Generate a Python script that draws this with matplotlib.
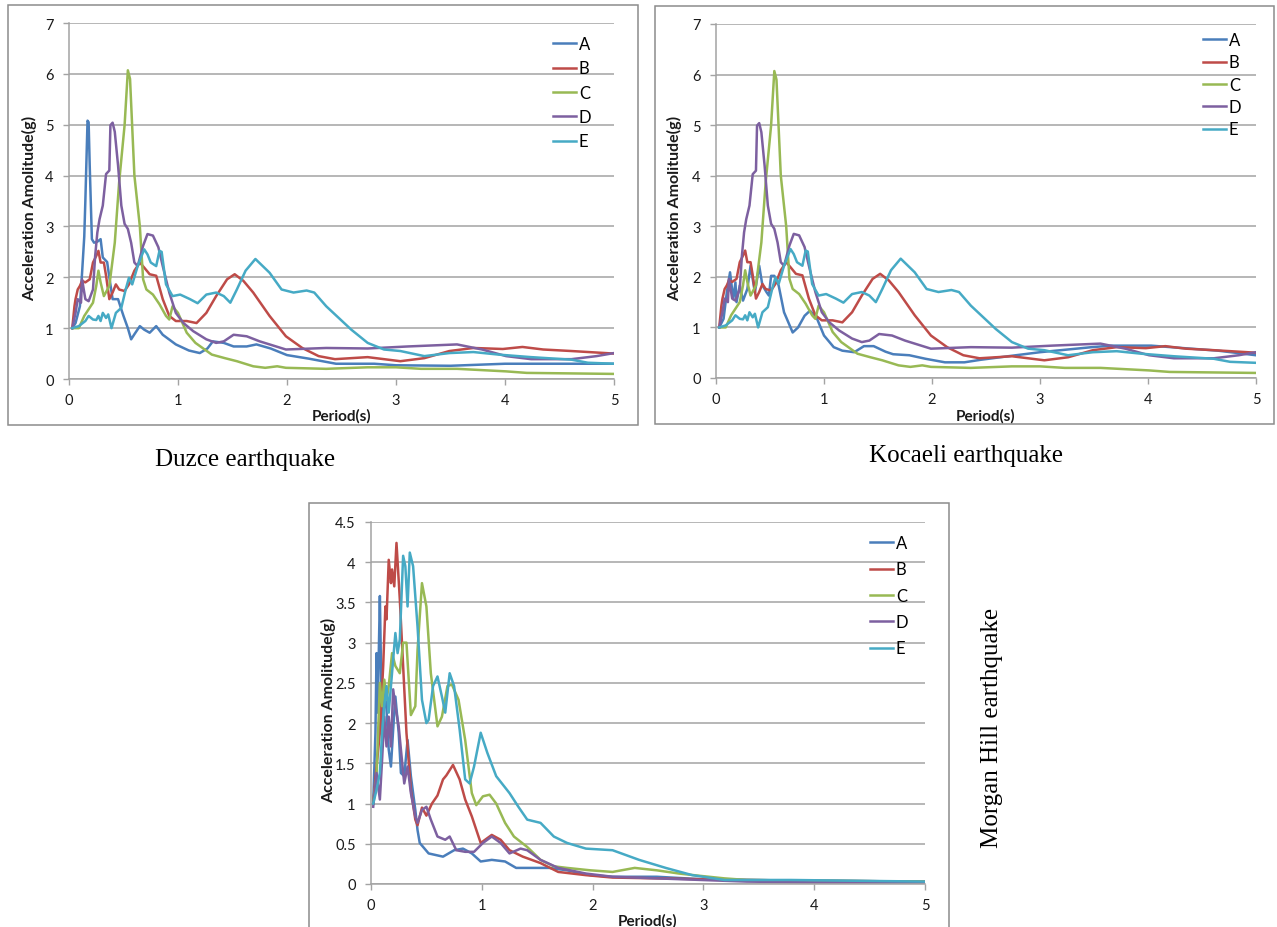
import matplotlib
matplotlib.use("Agg")
import matplotlib.pyplot as plt
from matplotlib.patches import Rectangle

plt.rcParams['font.family'] = ['Lato', 'DejaVu Sans']

W, H = 1277, 928

# ---- data: period (s) and acceleration (g) ----
series_names = ['A', 'B', 'C', 'D', 'E']
series_colors = ['#4A7EBB', '#BE4B48', '#98B954', '#7D60A0', '#46AAC5']

# Duzce, record A
duzce_a_t = [0.03, 0.06, 0.10, 0.12, 0.14, 0.15, 0.17, 0.18, 0.19, 0.21,
             0.23, 0.26, 0.29, 0.31, 0.35, 0.37, 0.40, 0.45, 0.48, 0.50,
             0.54, 0.57, 0.60, 0.65, 0.69, 0.74, 0.80, 0.86, 0.98, 1.10,
             1.20, 1.27, 1.32, 1.42, 1.51, 1.63, 1.72, 1.85, 2.00, 2.20,
             2.45, 2.80, 3.00, 3.50, 4.00, 4.50, 5.00]
duzce_a_g = [1.0, 1.1, 1.43, 2.09, 2.8, 3.5, 5.08, 5.05, 4.2, 2.75,
             2.68, 2.7, 2.75, 2.39, 2.3, 2.0, 1.57, 1.57, 1.37, 1.24,
             1.0, 0.78, 0.88, 1.04, 0.97, 0.91, 1.04, 0.87, 0.68, 0.56,
             0.51, 0.6, 0.74, 0.71, 0.64, 0.64, 0.68, 0.6, 0.47, 0.4,
             0.3, 0.3, 0.27, 0.26, 0.3, 0.3, 0.3]

# Kocaeli, record A
kocaeli_a_t = [0.03, 0.07, 0.10, 0.13, 0.16, 0.18, 0.19, 0.22, 0.25, 0.29,
               0.32, 0.36, 0.40, 0.43, 0.47, 0.49, 0.51, 0.54, 0.58, 0.63,
               0.71, 0.76, 0.82, 0.87, 0.93, 1.00, 1.09, 1.17, 1.28, 1.37,
               1.46, 1.57, 1.64, 1.79, 1.94, 2.12, 2.30, 2.45, 2.74, 3.00,
               3.48, 3.66, 4.03, 4.21, 4.65, 5.00]
kocaeli_a_g = [1.0, 1.17, 1.69, 2.09, 1.56, 1.89, 1.5, 1.83, 1.53, 1.76,
               2.22, 1.69, 2.22, 1.83, 1.69, 1.63, 2.02, 2.02, 1.83, 1.3,
               0.9, 1.0, 1.23, 1.33, 1.2, 0.84, 0.61, 0.54, 0.51, 0.63,
               0.63, 0.52, 0.47, 0.45, 0.38, 0.31, 0.31, 0.36, 0.44, 0.51,
               0.61, 0.64, 0.64, 0.61, 0.54, 0.45]

# records B..E, same in the Duzce and Kocaeli panels
turkey_b_t = [0.03, 0.05, 0.06, 0.08, 0.10, 0.12, 0.15, 0.19, 0.22, 0.25,
              0.27, 0.29, 0.32, 0.34, 0.37, 0.40, 0.43, 0.46, 0.51, 0.55,
              0.60, 0.65, 0.69, 0.74, 0.80, 0.86, 0.92, 0.98, 1.08, 1.17,
              1.26, 1.35, 1.45, 1.52, 1.60, 1.69, 1.84, 1.99, 2.14, 2.29,
              2.44, 2.74, 2.89, 3.04, 3.26, 3.49, 3.71, 3.98, 4.16, 4.35,
              4.61, 5.00]
turkey_b_g = [1.0, 1.43, 1.57, 1.76, 1.83, 1.93, 1.9, 1.96, 2.29, 2.42,
              2.52, 2.29, 2.29, 2.03, 1.57, 1.7, 1.86, 1.76, 1.73, 1.86,
              2.13, 2.29, 2.19, 2.06, 2.03, 1.57, 1.24, 1.14, 1.14, 1.1,
              1.3, 1.63, 1.96, 2.06, 1.93, 1.7, 1.24, 0.84, 0.61, 0.45,
              0.39, 0.43, 0.39, 0.35, 0.41, 0.55, 0.61, 0.59, 0.63, 0.58,
              0.55, 0.5]

turkey_c_t = [0.03, 0.09, 0.14, 0.18, 0.22, 0.25, 0.27, 0.29, 0.32, 0.37,
              0.42, 0.46, 0.51, 0.54, 0.56, 0.60, 0.65, 0.68, 0.71, 0.77,
              0.83, 0.89, 0.92, 0.95, 1.00, 1.08, 1.16, 1.31, 1.43, 1.54,
              1.69, 1.80, 1.91, 1.99, 2.36, 2.74, 3.00, 3.23, 3.56, 4.01,
              4.20, 5.00]
turkey_c_g = [1.0, 1.0, 1.24, 1.37, 1.5, 1.83, 2.13, 1.9, 1.63, 1.83,
              2.68, 3.87, 4.99, 6.07, 5.9, 4.0, 3.0, 1.96, 1.76, 1.66,
              1.47, 1.24, 1.17, 1.43, 1.3, 0.91, 0.71, 0.48, 0.41, 0.35,
              0.25, 0.22, 0.25, 0.22, 0.2, 0.23, 0.23, 0.2, 0.2, 0.15,
              0.12, 0.1]

turkey_d_t = [0.03, 0.06, 0.08, 0.11, 0.12, 0.15, 0.18, 0.22, 0.24, 0.26,
              0.28, 0.31, 0.34, 0.37, 0.38, 0.40, 0.42, 0.45, 0.48, 0.51,
              0.54, 0.57, 0.60, 0.63, 0.68, 0.72, 0.77, 0.82, 0.86, 0.92,
              0.98, 1.05, 1.14, 1.26, 1.35, 1.42, 1.51, 1.63, 1.75, 1.99,
              2.36, 2.74, 3.11, 3.56, 3.79, 4.01, 4.24, 4.61, 4.84, 5.00]
turkey_d_g = [1.0, 1.3, 1.57, 1.5, 1.96, 1.57, 1.53, 1.76, 2.42, 2.88,
              3.14, 3.41, 4.03, 4.1, 4.99, 5.04, 4.86, 4.2, 3.41, 3.05,
              2.95, 2.68, 2.29, 2.22, 2.62, 2.85, 2.82, 2.59, 2.22, 1.7,
              1.3, 1.1, 0.94, 0.78, 0.71, 0.74, 0.87, 0.84, 0.74, 0.58,
              0.61, 0.6, 0.64, 0.68, 0.58, 0.45, 0.39, 0.39, 0.45, 0.51]

turkey_e_t = [0.03, 0.09, 0.15, 0.18, 0.22, 0.25, 0.27, 0.29, 0.31, 0.34,
              0.36, 0.39, 0.43, 0.48, 0.52, 0.55, 0.58, 0.63, 0.69, 0.72,
              0.75, 0.80, 0.83, 0.85, 0.89, 0.95, 1.02, 1.11, 1.18, 1.26,
              1.35, 1.42, 1.48, 1.54, 1.62, 1.71, 1.84, 1.95, 2.06, 2.18,
              2.25, 2.36, 2.59, 2.74, 2.89, 3.04, 3.26, 3.49, 3.71, 3.94,
              4.24, 4.61, 4.76, 5.00]
turkey_e_g = [1.0, 1.04, 1.14, 1.24, 1.17, 1.16, 1.24, 1.14, 1.3, 1.2,
              1.27, 1.0, 1.3, 1.4, 1.76, 1.99, 1.86, 2.22, 2.55, 2.45,
              2.29, 2.22, 2.52, 2.5, 1.86, 1.63, 1.66, 1.57, 1.49, 1.66,
              1.7, 1.63, 1.5, 1.76, 2.13, 2.36, 2.09, 1.76, 1.7, 1.74,
              1.7, 1.43, 0.97, 0.71, 0.58, 0.55, 0.45, 0.51, 0.53, 0.48,
              0.43, 0.38, 0.32, 0.3]

# Morgan Hill
morgan_a_t = [0.02, 0.04, 0.05, 0.06, 0.08, 0.09, 0.10, 0.13, 0.15, 0.16,
              0.18, 0.20, 0.22, 0.25, 0.27, 0.30, 0.33, 0.36, 0.40, 0.42,
              0.44, 0.52, 0.65, 0.75, 0.83, 0.91, 0.99, 1.09, 1.21, 1.31,
              1.41, 1.61, 1.77, 1.98, 2.18, 2.58, 2.98, 3.39, 3.99, 5.00]
morgan_a_g = [1.0, 1.88, 2.87, 2.13, 3.58, 2.71, 1.88, 2.46, 1.88, 1.67,
              1.46, 1.92, 2.33, 1.88, 1.38, 1.34, 1.79, 1.34, 0.92, 0.67,
              0.51, 0.38, 0.34, 0.42, 0.44, 0.38, 0.28, 0.3, 0.28, 0.2,
              0.2, 0.2, 0.17, 0.11, 0.09, 0.09, 0.06, 0.05, 0.04, 0.03]

morgan_b_t = [0.02, 0.05, 0.08, 0.11, 0.13, 0.14, 0.16, 0.18, 0.19, 0.21,
              0.23, 0.26, 0.29, 0.32, 0.36, 0.40, 0.42, 0.46, 0.50, 0.55,
              0.60, 0.65, 0.68, 0.74, 0.80, 0.85, 0.91, 0.99, 1.09, 1.17,
              1.25, 1.37, 1.53, 1.69, 1.94, 2.18, 2.58, 2.98, 3.39, 3.99,
              5.00]
morgan_b_g = [1.0, 1.46, 1.88, 2.71, 3.45, 3.29, 4.03, 3.74, 3.91, 3.7,
              4.24, 3.54, 2.71, 1.88, 1.17, 0.8, 0.73, 0.95, 0.85, 1.0,
              1.1, 1.3, 1.35, 1.48, 1.3, 1.05, 0.84, 0.51, 0.61, 0.55,
              0.42, 0.34, 0.26, 0.15, 0.11, 0.08, 0.07, 0.06, 0.05, 0.04,
              0.03]

morgan_c_t = [0.02, 0.05, 0.08, 0.10, 0.12, 0.14, 0.16, 0.19, 0.22, 0.26,
              0.29, 0.32, 0.36, 0.40, 0.42, 0.46, 0.50, 0.54, 0.60, 0.64,
              0.69, 0.73, 0.79, 0.85, 0.91, 0.95, 1.01, 1.07, 1.13, 1.21,
              1.29, 1.41, 1.53, 1.65, 1.77, 1.98, 2.18, 2.38, 2.58, 2.78,
              2.98, 3.19, 3.39, 3.99, 5.00]
morgan_c_g = [1.0, 1.34, 2.5, 2.21, 2.54, 2.29, 2.46, 2.87, 2.71, 2.62,
              3.0, 3.0, 2.1, 2.21, 2.91, 3.74, 3.45, 2.62, 1.96, 2.08,
              2.46, 2.48, 2.29, 1.79, 1.13, 0.98, 1.09, 1.11, 1.0, 0.76,
              0.59, 0.46, 0.3, 0.22, 0.2, 0.17, 0.15, 0.2, 0.17, 0.13,
              0.1, 0.07, 0.05, 0.04, 0.03]

morgan_d_t = [0.02, 0.05, 0.08, 0.10, 0.12, 0.14, 0.16, 0.18, 0.20, 0.22,
              0.25, 0.27, 0.30, 0.33, 0.36, 0.40, 0.42, 0.46, 0.50, 0.54,
              0.60, 0.67, 0.71, 0.77, 0.85, 0.93, 1.01, 1.09, 1.17, 1.25,
              1.35, 1.41, 1.53, 1.69, 1.94, 2.18, 2.58, 2.98, 3.39, 3.99,
              5.00]
morgan_d_g = [0.96, 1.38, 1.05, 1.54, 2.08, 1.71, 2.08, 1.71, 2.42, 2.21,
              1.96, 1.67, 1.25, 1.46, 1.13, 0.84, 0.76, 0.92, 0.96, 0.8,
              0.59, 0.55, 0.59, 0.42, 0.4, 0.4, 0.51, 0.59, 0.51, 0.38,
              0.44, 0.42, 0.3, 0.2, 0.13, 0.09, 0.07, 0.05, 0.03, 0.02,
              0.02]

morgan_e_t = [0.02, 0.05, 0.08, 0.10, 0.12, 0.14, 0.16, 0.18, 0.20, 0.22,
              0.24, 0.26, 0.29, 0.31, 0.33, 0.35, 0.38, 0.42, 0.46, 0.50,
              0.52, 0.56, 0.60, 0.64, 0.67, 0.71, 0.75, 0.80, 0.85, 0.89,
              0.93, 0.99, 1.05, 1.13, 1.25, 1.33, 1.41, 1.53, 1.65, 1.77,
              1.94, 2.18, 2.42, 2.66, 2.90, 3.19, 3.79, 5.00]
morgan_e_g = [1.0, 1.17, 1.38, 1.88, 2.21, 2.46, 2.13, 2.46, 2.79, 3.12,
              2.87, 3.04, 4.08, 3.95, 3.45, 4.12, 3.95, 3.2, 2.29, 2.0,
              2.04, 2.46, 2.58, 2.33, 2.13, 2.62, 2.46, 1.92, 1.3, 1.25,
              1.46, 1.88, 1.63, 1.34, 1.13, 0.96, 0.8, 0.76, 0.59, 0.51,
              0.44, 0.42, 0.3, 0.2, 0.11, 0.05, 0.05, 0.03]

duzce = [(duzce_a_t, duzce_a_g), (turkey_b_t, turkey_b_g), (turkey_c_t, turkey_c_g),
         (turkey_d_t, turkey_d_g), (turkey_e_t, turkey_e_g)]
kocaeli = [(kocaeli_a_t, kocaeli_a_g), (turkey_b_t, turkey_b_g), (turkey_c_t, turkey_c_g),
           (turkey_d_t, turkey_d_g), (turkey_e_t, turkey_e_g)]
morgan = [(morgan_a_t, morgan_a_g), (morgan_b_t, morgan_b_g), (morgan_c_t, morgan_c_g),
          (morgan_d_t, morgan_d_g), (morgan_e_t, morgan_e_g)]

grid_col = '#a3a3a3'
frame_col = '#8c8c8c'


def fx(x):
    return x / W


def fy(y):
    return 1 - y / H


def panel(fig, box, frame, data, ymax, ystep, yticklabels, legend_at, spacing, ylab_x, xlab_y):
    left, top, right, bottom = box
    # outer chart border
    fl, ft, fr, fb = frame
    fig.patches.append(Rectangle((fx(fl), fy(fb)), (fr - fl) / W, (fb - ft) / H,
                                 transform=fig.transFigure, fill=False,
                                 edgecolor=frame_col, lw=1.1))
    ax = fig.add_axes([fx(left), fy(bottom), (right - left) / W, (bottom - top) / H])
    for (t, g), name, col in zip(data, series_names, series_colors):
        ax.plot(t, g, color=col, lw=1.8, label=name, solid_joinstyle='round')
    ax.set_xlim(0, 5)
    ax.set_ylim(0, ymax)
    ax.set_xticks(range(6))
    yt = [i * ystep for i in range(len(yticklabels))]
    ax.set_yticks(yt)
    ax.set_yticklabels(yticklabels)
    ax.yaxis.grid(True, color=grid_col, lw=1.1)
    ax.set_axisbelow(True)
    for s in ['top', 'right']:
        ax.spines[s].set_visible(False)
    for s in ['left', 'bottom']:
        ax.spines[s].set_color(grid_col)
        ax.spines[s].set_linewidth(1.1)
    ax.tick_params(axis='both', direction='out', length=4, width=1.0, color=grid_col,
                   labelsize=10.5, labelcolor='#1a1a1a')
    ax.tick_params(axis='y', pad=7)
    ax.tick_params(axis='x', pad=6)
    fig.text(fx(ylab_x), fy((top + bottom) / 2 + 6), 'Acceleration Amolitude(g)', rotation=90,
             ha='center', va='center', fontsize=11.5, fontweight='bold', color='#1a1a1a')
    fig.text(fx((left + right) / 2), fy(xlab_y), 'Period(s)', ha='center', va='center',
             fontsize=11, fontweight='bold', color='#1a1a1a')
    ax.legend(loc='upper left', bbox_to_anchor=(fx(legend_at[0]), fy(legend_at[1])),
              bbox_transform=fig.transFigure, frameon=False, fontsize=12,
              handlelength=1.4, handletextpad=0.15, labelspacing=spacing,
              borderpad=0, borderaxespad=0)
    return ax


fig = plt.figure(figsize=(W / 100, H / 100), dpi=100)

labels7 = [str(i) for i in range(8)]
labels45 = ['0', '0.5', '1', '1.5', '2', '2.5', '3', '3.5', '4', '4.5']

panel(fig, (69, 24, 614, 380), (8, 6, 638, 426), duzce, 7, 1, labels7,
      (553, 37), 0.5, 30, 416)
panel(fig, (716, 25, 1256, 379), (655, 7, 1274, 425), kocaeli, 7, 1, labels7,
      (1203, 33), 0.38, 675, 416)
panel(fig, (371, 523, 925, 885), (309, 504, 949, 940), morgan, 4.5, 0.5, labels45,
      (870, 536), 0.62, 329, 921)

serif = ['Liberation Serif', 'DejaVu Serif']
fig.text(fx(245), fy(460), 'Duzce earthquake', ha='center', va='center',
         fontsize=18, family=serif, color='black')
fig.text(fx(966), fy(456), 'Kocaeli earthquake', ha='center', va='center',
         fontsize=18, family=serif, color='black')
fig.text(fx(992), fy(728), 'Morgan Hill earthquake', ha='center', va='center',
         rotation=90, fontsize=18, family=serif, color='black')

fig.savefig('out.png', dpi=100)
